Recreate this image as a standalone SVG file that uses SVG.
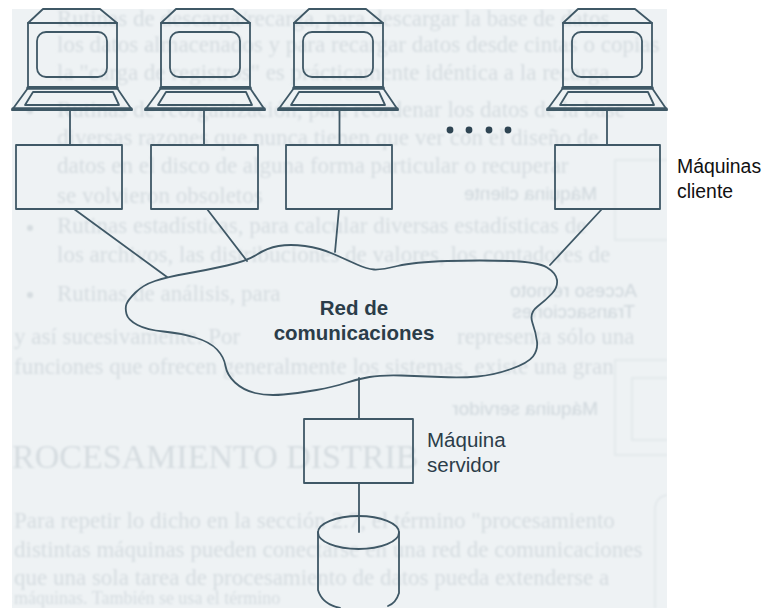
<svg xmlns="http://www.w3.org/2000/svg" width="762" height="608" viewBox="0 0 762 608">
<style>
.l{fill:none;stroke:#3f5866;stroke-width:1.8;stroke-linejoin:round;stroke-linecap:round}
.t{stroke-width:3.6}
.b{fill:#eef2f4}
.lab{font-family:"Liberation Sans",Arial,sans-serif;fill:#2b3d49;font-size:20.500px}
.out{font-family:"Liberation Sans",Arial,sans-serif;fill:#111;font-size:19.400px}
.g{font-family:"Liberation Serif","Times New Roman",serif;font-size:23px;fill:#d5dce0}
.m{font-family:"Liberation Sans",Arial,sans-serif;font-size:19px;fill:#cfd7dc}
.gl{fill:none;stroke:#e0e6e9;stroke-width:1.500}
</style>
<defs>
<clipPath id="pg"><rect x="12" y="9" width="655" height="599"/></clipPath>
<filter id="bl" x="-5%" y="-5%" width="110%" height="110%"><feGaussianBlur stdDeviation="1.200"/></filter>
<g id="pc">
<path class="l" d="M28 23L43 9H100L117 23Z"/>
<rect class="l" x="28" y="23" width="89" height="64"/>
<rect class="l" x="37" y="32" width="70" height="45" rx="9"/>
<path class="l t" d="M28 88H117"/>
<path class="l" d="M28 88L12 110H132L117 88"/>
<path class="l" d="M33 92L25 105H119L113 92Z"/>
<path class="l t" d="M13 109H131"/>
</g>
</defs>
<rect width="762" height="608" fill="#fff"/>
<rect class="b" x="12" y="9" width="655" height="599"/>
<g id="ghost" clip-path="url(#pg)" filter="url(#bl)">
<text class="g" x="57" y="26">Rutinas de descarga/recarga, para descargar la base de datos</text>
<text class="g" x="57" y="52">los datos almacenados y para recargar datos desde cintas o copias</text>
<text class="g" x="57" y="80">la "carga de registros" es prácticamente idéntica a la recarga</text>
<text class="g" x="57" y="117">Rutinas de reorganización, para reordenar los datos de la base</text>
<text class="g" x="57" y="145">diversas razones que nunca tienen que ver con el diseño de</text>
<text class="g" x="57" y="173">datos en el disco de alguna forma particular o recuperar</text>
<text class="g" x="57" y="203">se volvieron obsoletos</text>
<text class="g" x="57" y="233">Rutinas estadísticas, para calcular diversas estadísticas de</text>
<text class="g" x="57" y="262">los archivos, las distribuciones de valores, los contadores de</text>
<text class="g" x="57" y="301">Rutinas de análisis, para</text>
<text class="g" x="14" y="344">y así sucesivamente. Por</text>
<text class="g" x="457" y="344">representa sólo una</text>
<text class="g" x="14" y="374">funciones que ofrecen generalmente los sistemas, existe una gran</text>
<text class="g" x="12" y="468" style="font-size:34px">ROCESAMIENTO DISTRIB</text>
<text class="g" x="14" y="528">Para repetir lo dicho en la sección 2.7, el término "procesamiento</text>
<text class="g" x="14" y="557">distintas máquinas pueden conectarse en una red de comunicaciones</text>
<text class="g" x="14" y="585">que una sola tarea de procesamiento de datos pueda extenderse a</text>
<text class="g" x="14" y="604" style="font-size:18px">máquinas. También se usa el término</text>
<text class="m" transform="translate(597 200) scale(-1 1)">Máquina cliente</text>
<text class="m" transform="translate(637 297) scale(-1 1)">Acceso remoto</text>
<text class="m" transform="translate(635 318) scale(-1 1)">Transacciones</text>
<text class="m" transform="translate(598 415) scale(-1 1)">Máquina servidor</text>
<path class="gl" d="M667 160H615V240H667M667 360H615V455H667M667 378H632V440H667M667 495Q655 497 655 510V608"/>
<g fill="#d5dce0"><circle cx="30" cy="111" r="3"/><circle cx="30" cy="228" r="3"/><circle cx="30" cy="295" r="3"/></g>
</g>
<g id="connectors">
<path class="l" d="M70 111V145M204 111V145M339.500 111V145M607 111V145"/>
<path class="l" d="M74 209L167 277M207 209L247 261M339 209L335 252M602 209L550 265"/>
<path class="l" d="M359 378V419M359 483V532"/>
</g>
<g id="pc1"><use href="#pc"/><rect class="l" x="16" y="145" width="106" height="64"/></g>
<g id="pc2"><use href="#pc" x="133"/><rect class="l" x="151" y="145" width="107" height="64"/></g>
<g id="pc3"><use href="#pc" x="266"/><rect class="l" x="286" y="145" width="106" height="64"/></g>
<g id="pc4"><use href="#pc" x="535"/><rect class="l" x="555" y="145" width="105" height="64"/></g>
<g id="dots" fill="#2f4553"><circle cx="450" cy="130" r="3.400"/><circle cx="469" cy="130" r="3.400"/><circle cx="489" cy="130" r="3.400"/><circle cx="508" cy="130" r="3.400"/></g>
<g id="red">
<path class="l" d="M155 281Q167 277 187 273.500Q207 270 227 265.500Q247 261 257 254.500Q267 248 278.500 246Q290 244 305 246Q320 248 333.500 254Q347 260 357 264.500Q367 269 374 269.500Q381 270 397.500 266Q414 262 447.500 261Q481 260 509.500 261Q538 262 547 267.500Q556 273 557 280Q558 287 552 293.500Q546 300 537.500 306.500Q529 313 532.500 323Q536 333 537 341.500Q538 350 533 356.500Q528 363 511 369Q494 375 477.500 376.500Q461 378 441 377Q421 376 401 375.500Q381 375 369.500 377Q358 379 345.500 383Q333 387 316.500 390Q300 393 283.500 394.500Q267 396 255 393Q243 390 235 382.500Q227 375 225.500 366Q224 357 217 349.500Q210 342 195 337.500Q180 333 163.500 331.500Q147 330 137.500 325Q128 320 126.500 314Q125 308 126.500 304Q128 300 135.500 292.500Q143 285 155 281Z"/>
<text class="lab" x="354" y="315" text-anchor="middle" font-weight="700">Red de</text>
<text class="lab" x="354" y="340" text-anchor="middle" font-weight="700">comunicaciones</text>
</g>
<g id="servidor">
<rect class="l" x="304" y="419" width="109" height="64"/>
<text class="lab" x="427" y="447">Máquina</text>
<text class="lab" x="427" y="472">servidor</text>
</g>
<g id="disco">
<ellipse class="l" cx="358.500" cy="532.500" rx="40.500" ry="16.500"/>
<path class="l" d="M318 532V590Q322 604 340 608M399 532V593Q396 603 388 606"/>
</g>
<g id="clientes-label">
<text class="out" x="677" y="173">Máquinas</text>
<text class="out" x="677" y="198">cliente</text>
</g>
</svg>
